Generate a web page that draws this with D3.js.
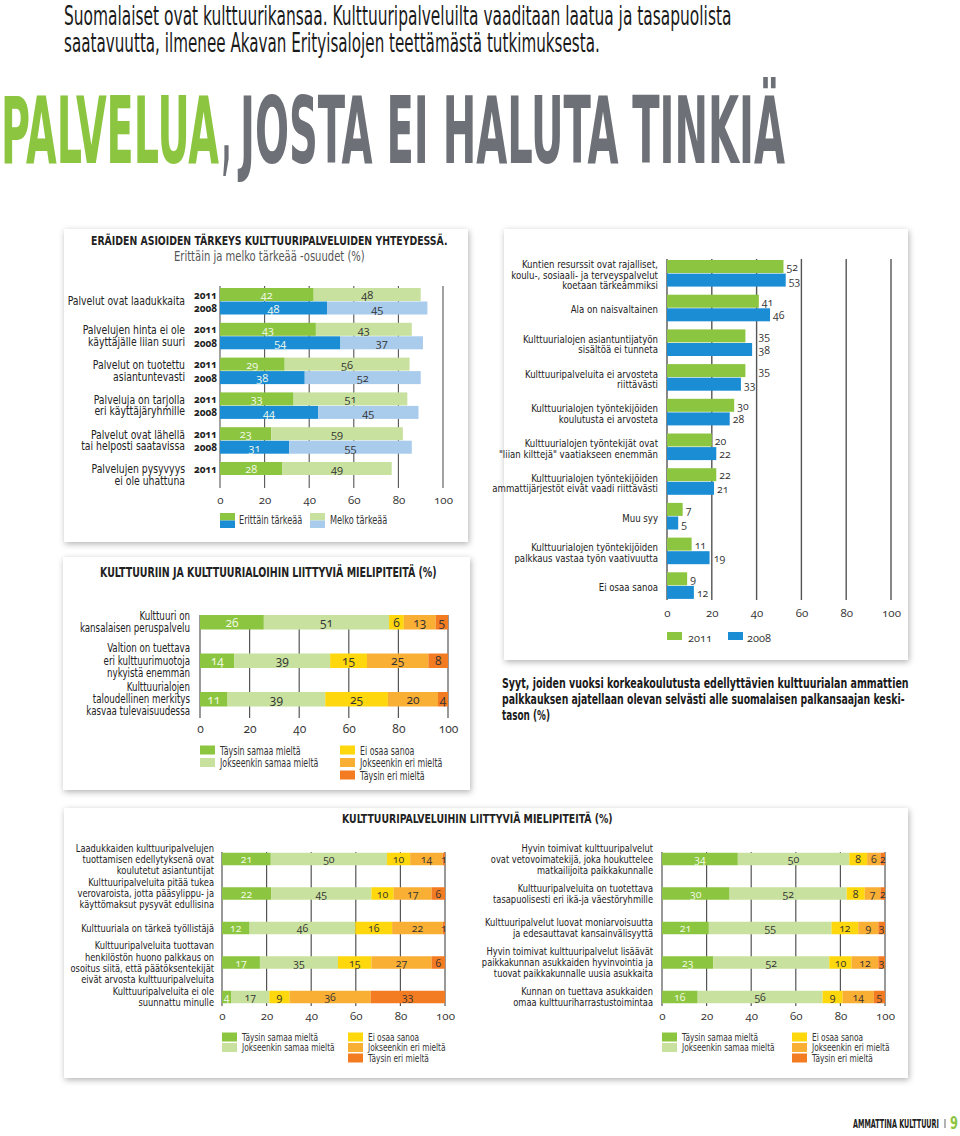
<!DOCTYPE html>
<html><head><meta charset="utf-8">
<script src="https://cdn.jsdelivr.net/npm/d3@7"></script>
<style>
body{margin:0;background:#fff;}
svg{display:block;}
.nar{font-family:"Liberation Sans Narrow","DejaVu Sans Condensed","Arial Narrow",sans-serif;}
.num{font-family:"Open Sans","DejaVu Sans",sans-serif;font-variant-numeric:oldstyle-nums;}
</style></head><body>
<svg id="c" width="960" height="1136"></svg>
<script>
// ---------------- DATA ----------------
const introLines = ["Suomalaiset ovat kulttuurikansaa. Kulttuuripalveluilta vaaditaan laatua ja tasapuolista",
  "saatavuutta, ilmenee Akavan Erityisalojen teettämästä tutkimuksesta."];
const titleGreen = "PALVELUA";
const titleGray = "JOSTA EI HALUTA TINKIÄ";
const axisTicks = [0,20,40,60,80,100];

// Chart 1
const c1Title = "ERÄIDEN ASIOIDEN TÄRKEYS KULTTUURIPALVELUIDEN YHTEYDESSÄ.";
const c1Subtitle = "Erittäin ja melko tärkeää -osuudet (%)";
const c1Categories = [["Palvelut ovat laadukkaita"],["Palvelujen hinta ei ole","käyttäjälle liian suuri"],
  ["Palvelut on tuotettu","asiantuntevasti"],["Palveluja on tarjolla","eri käyttäjäryhmille"],
  ["Palvelut ovat lähellä","tai helposti saatavissa"],["Palvelujen pysyvyys","ei ole uhattuna"]];
const c1Years = ["2011","2008"];
const c1Very2011 = [42,43,29,33,23,28];
const c1Fairly2011 = [48,43,56,51,59,49];
const c1Very2008 = [48,54,38,44,31,null];
const c1Fairly2008 = [45,37,52,45,55,null];
const c1Legend = ["Erittäin tärkeää","Melko tärkeää"];

// Chart 2
const c2Categories = [["Kuntien resurssit ovat rajalliset,","koulu-, sosiaali- ja terveyspalvelut","koetaan tärkeämmiksi"],
  ["Ala on naisvaltainen"],["Kulttuurialojen asiantuntijatyön","sisältöä ei tunneta"],
  ["Kulttuuripalveluita ei arvosteta","riittävästi"],["Kulttuurialojen työntekijöiden","koulutusta ei arvosteta"],
  ["Kulttuurialojen työntekijät ovat","\"liian kilttejä\" vaatiakseen enemmän"],
  ["Kulttuurialojen työntekijöiden","ammattijärjestöt eivät vaadi riittävästi"],["Muu syy"],
  ["Kulttuurialojen työntekijöiden","palkkaus vastaa työn vaativuutta"],["Ei osaa sanoa"]];
const c2Values2011 = [52,41,35,35,30,20,22,7,11,9];
const c2Values2008 = [53,46,38,33,28,22,21,5,19,12];
const c2Legend = ["2011","2008"];
const c2Caption = ["Syyt, joiden vuoksi korkeakoulutusta edellyttävien kulttuurialan ammattien",
  "palkkauksen ajatellaan olevan selvästi alle suomalaisen palkansaajan keski-","tason (%)"];

// Opinion legend
const opinionLegend = ["Täysin samaa mieltä","Jokseenkin samaa mieltä","Ei osaa sanoa","Jokseenkin eri mieltä","Täysin eri mieltä"];

// Chart 3
const c3Title = "KULTTUURIIN JA KULTTUURIALOIHIN LIITTYVIÄ MIELIPITEITÄ (%)";
const c3Categories = [["Kulttuuri on","kansalaisen peruspalvelu"],["Valtion on tuettava","eri kulttuurimuotoja","nykyistä enemmän"],
  ["Kulttuurialojen","taloudellinen merkitys","kasvaa tulevaisuudessa"]];
const c3FullyAgree = [26,14,11];
const c3SomewhatAgree = [51,39,39];
const c3DontKnow = [6,15,25];
const c3SomewhatDisagree = [13,25,20];
const c3FullyDisagree = [5,8,4];

// Chart 4 & 5
const c45Title = "KULTTUURIPALVELUIHIN LIITTYVIÄ MIELIPITEITÄ (%)";
const c4Categories = [["Laadukkaiden kulttuuripalvelujen","tuottamisen edellytyksenä ovat","koulutetut asiantuntijat"],
  ["Kulttuuripalveluita pitää tukea","verovaroista, jotta pääsylippu- ja","käyttömaksut pysyvät edullisina"],
  ["Kulttuuriala on tärkeä työllistäjä"],
  ["Kulttuuripalveluita tuottavan","henkilöstön huono palkkaus on","osoitus siitä, että päätöksentekijät","eivät arvosta kulttuuripalveluita"],
  ["Kulttuuripalveluita ei ole","suunnattu minulle"]];
const c4FullyAgree = [21,22,12,17,4];
const c4SomewhatAgree = [50,45,46,35,17];
const c4DontKnow = [10,10,16,15,9];
const c4SomewhatDisagree = [14,17,22,27,36];
const c4FullyDisagree = [1,6,1,6,33];

const c5Categories = [["Hyvin toimivat kulttuuripalvelut","ovat vetovoimatekijä, joka houkuttelee","matkailijoita paikkakunnalle"],
  ["Kulttuuripalveluita on tuotettava","tasapuolisesti eri ikä-ja väestöryhmille"],
  ["Kulttuuripalvelut luovat moniarvoisuutta","ja edesauttavat kansainvälisyyttä"],
  ["Hyvin toimivat kulttuuripalvelut lisäävät","paikkakunnan asukkaiden hyvinvointia ja","tuovat paikkakunnalle uusia asukkaita"],
  ["Kunnan on tuettava asukkaiden","omaa kulttuuriharrastustoimintaa"]];
const c5FullyAgree = [34,30,21,23,16];
const c5SomewhatAgree = [50,52,55,52,56];
const c5DontKnow = [8,8,12,10,9];
const c5SomewhatDisagree = [6,7,9,12,14];
const c5FullyDisagree = [2,2,3,3,5];

const footerText = "AMMATTINA KULTTUURI";
const footerPage = "9";

// ---------------- STYLE ----------------
const GREEN = "#8cc540", LGREEN = "#c8e19f", BLUE = "#1b8dd5", LBLUE = "#a9cbec";
const YELLOW = "#fed70c", ORANGE = "#f9ae34", DORANGE = "#f37c22";
const opinionColors = [GREEN, LGREEN, YELLOW, ORANGE, DORANGE];
const opinionText = ["#f4fbe9","#333","#333","#333","#333"];
const GRID = "#555";

const svg = d3.select("#c");
const defs = svg.append("defs");
const flt = defs.append("filter").attr("id","sh").attr("x","-5%").attr("y","-5%").attr("width","110%").attr("height","112%");
flt.append("feDropShadow").attr("dx",1).attr("dy",2).attr("stdDeviation",3).attr("flood-color","#000").attr("flood-opacity",0.3);

function ctext(g, x, y, str, o = {}) {
  const sx = o.sx ?? 1;
  return g.append("g").attr("transform", `translate(${x},${y}) scale(${sx},1)`)
    .append("text").attr("class", o.cls || "nar").attr("text-anchor", o.anchor || "start")
    .attr("dominant-baseline", o.db || "central").attr("font-size", o.size || 11)
    .attr("font-weight", o.weight || "normal").attr("fill", o.fill || "#222").text(str);
}
// text squeezed/stretched horizontally to an exact width
function fitText(g, x, y, str, width, o = {}) {
  const gg = g.append("g");
  const t = gg.append("text").attr("class", o.cls || "nar").attr("text-anchor", o.anchor || "start")
    .attr("dominant-baseline", o.db || "auto").attr("font-size", o.size || 11)
    .attr("font-weight", o.weight || "normal").attr("fill", o.fill || "#222").text(str);
  const w = t.node().getComputedTextLength() || width;
  gg.attr("transform", `translate(${x},${y}) scale(${width / w},1)`);
  return t;
}
function mtext(g, x, cy, lines, lh, o) {
  lines.forEach((l, i) => ctext(g, x, cy + (i - (lines.length - 1) / 2) * lh, l, o));
}
function panel(x, y, w, h) {
  svg.append("rect").attr("x", x).attr("y", y).attr("width", w).attr("height", h)
    .attr("fill", "#fff").attr("filter", "url(#sh)");
}
function grid(g, x, y0, y1, w) {
  g.selectAll(null).data(axisTicks).join("line")
    .attr("x1", d => x(d)).attr("x2", d => x(d)).attr("y1", y0).attr("y2", y1)
    .attr("stroke", GRID).attr("stroke-width", w || 1.2);
}
function axis(g, x, y, size) {
  const a = g.append("g").attr("transform", `translate(0,${y})`)
    .call(d3.axisBottom(x).tickValues(axisTicks).tickSize(0).tickPadding(0));
  a.select(".domain").remove();
  a.attr("font-family", null).attr("font-size", null);
  a.selectAll("text").attr("class", "num").attr("font-size", size || 12).attr("fill", "#333")
    .attr("dy", null).attr("dominant-baseline", "central");
}

// ---------------- HEADER ----------------
const head = svg.append("g");
fitText(head, 64, 25, introLines[0], 668, {size: 26, fill: "#1a1a1a"});
fitText(head, 64, 52, introLines[1], 536, {size: 26, fill: "#1a1a1a"});
fitText(head, 1, 163, titleGreen, 218, {size: 92, weight: "bold", fill: GREEN});
fitText(head, 222, 163, ",", 9, {size: 92, weight: "bold", fill: "#6d7076"});
fitText(head, 240, 163, titleGray, 545, {size: 92, weight: "bold", fill: "#6d7076"});

// ---------------- PANELS ----------------
panel(64, 229, 404, 313);
panel(504, 229, 404, 431);
panel(63, 557, 407, 233);
panel(64, 808, 844, 270);

// ---------------- CHART 1 ----------------
{
  const g = svg.append("g");
  fitText(g, 91, 245, c1Title, 357, {size: 13, weight: "bold"});
  fitText(g, 174, 261, c1Subtitle, 191, {size: 14, fill: "#555"});
  const x = d3.scaleLinear([0, 100], [220, 443]);
  const y = d3.scaleBand().domain(d3.range(c1Categories.length)).range([288, 288 + 6 * 34.8]);
  grid(g, x, 286, 488, 1.1);
  const rows = [];
  c1Categories.forEach((c, i) => {
    rows.push({i, yr: 0, a: c1Very2011[i], b: c1Fairly2011[i], ca: GREEN, cb: LGREEN});
    if (c1Very2008[i] != null) rows.push({i, yr: 1, a: c1Very2008[i], b: c1Fairly2008[i], ca: BLUE, cb: LBLUE});
  });
  const by = d => y(d.i) + d.yr * 13.5;
  g.selectAll(null).data(rows).join("rect").attr("x", x(0)).attr("y", by).attr("height", 13)
    .attr("width", d => x(d.a) - x(0)).attr("fill", d => d.ca);
  g.selectAll(null).data(rows).join("rect").attr("x", d => x(d.a)).attr("y", by).attr("height", 13)
    .attr("width", d => x(d.a + d.b) - x(d.a)).attr("fill", d => d.cb);
  g.selectAll(null).data(rows).join("text").attr("class", "num").attr("x", d => (x(0) + x(d.a)) / 2).attr("y", d => by(d) + 6.5)
    .attr("text-anchor", "middle").attr("dominant-baseline", "central").attr("font-size", 11).attr("fill", "#f2f9ea").text(d => d.a);
  g.selectAll(null).data(rows).join("text").attr("class", "num").attr("x", d => (x(d.a) + x(d.a + d.b)) / 2).attr("y", d => by(d) + 6.5)
    .attr("text-anchor", "middle").attr("dominant-baseline", "central").attr("font-size", 11).attr("fill", "#333").text(d => d.b);
  g.selectAll(null).data(rows).join("text").attr("class", "num").attr("x", 217).attr("y", d => by(d) + 6.5)
    .attr("text-anchor", "end").attr("dominant-baseline", "central").attr("font-size", 10).attr("font-weight", "bold")
    .attr("fill", "#222").text(d => c1Years[d.yr]);
  c1Categories.forEach((c, i) => mtext(g, 185, y(i) + 13.5, c, 11.5, {anchor: "end", size: 11.5, sx: 0.9}));
  axis(g, x, 499, 11.5);
  g.append("rect").attr("x", 220).attr("y", 513).attr("width", 15).attr("height", 7.5).attr("fill", GREEN);
  g.append("rect").attr("x", 220).attr("y", 520.5).attr("width", 15).attr("height", 7.5).attr("fill", BLUE);
  g.append("rect").attr("x", 310).attr("y", 513).attr("width", 15).attr("height", 7.5).attr("fill", LGREEN);
  g.append("rect").attr("x", 310).attr("y", 520.5).attr("width", 15).attr("height", 7.5).attr("fill", LBLUE);
  ctext(g, 239, 520, c1Legend[0], {size: 11.5, sx: 0.79, fill: "#333"});
  ctext(g, 330, 520, c1Legend[1], {size: 11.5, sx: 0.79, fill: "#333"});
}

// ---------------- CHART 2 ----------------
{
  const g = svg.append("g");
  const x = d3.scaleLinear([0, 100], [667, 891]);
  const y = d3.scaleBand().domain(d3.range(c2Categories.length)).range([260, 260 + 10 * 34.7]);
  grid(g, x, 259, 600, 1.4);
  const rows = [];
  c2Categories.forEach((c, i) => {
    rows.push({i, yr: 0, v: c2Values2011[i], c: GREEN});
    rows.push({i, yr: 1, v: c2Values2008[i], c: BLUE});
  });
  const by = d => y(d.i) + d.yr * 13.6;
  g.selectAll(null).data(rows).join("rect").attr("x", x(0)).attr("y", by).attr("height", 13)
    .attr("width", d => x(d.v) - x(0)).attr("fill", d => d.c);
  const labelX = v => {
    let x0 = x(v) + 3; const w = String(v).length * 6;
    axisTicks.slice(1).forEach(t => { const gx = x(t); if (x0 < gx + 2 && x0 + w > gx) x0 = gx + 2; });
    return x0;
  };
  g.selectAll(null).data(rows).join("text").attr("class", "num").attr("x", d => labelX(d.v)).attr("y", d => by(d) + 7)
    .attr("dominant-baseline", "central").attr("font-size", 10.5).attr("fill", "#333").text(d => d.v);
  c2Categories.forEach((c, i) => mtext(g, 658, y(i) + 14.5, c, 10.6, {anchor: "end", size: 11, sx: 0.87}));
  axis(g, x, 612, 11.5);
  g.append("rect").attr("x", 667).attr("y", 632).attr("width", 15).attr("height", 8).attr("fill", GREEN);
  g.append("rect").attr("x", 728).attr("y", 632).attr("width", 15).attr("height", 8).attr("fill", BLUE);
  ctext(g, 688, 637, c2Legend[0], {cls: "num", size: 11, fill: "#333"});
  ctext(g, 747, 637, c2Legend[1], {cls: "num", size: 11, fill: "#333"});
  fitText(g, 502, 688, c2Caption[0], 407, {size: 14, weight: "bold", fill: "#1a1a1a"});
  fitText(g, 502, 704, c2Caption[1], 403, {size: 14, weight: "bold", fill: "#1a1a1a"});
  fitText(g, 502, 720, c2Caption[2], 48, {size: 14, weight: "bold", fill: "#1a1a1a"});
}

// ---------------- STACKED OPINION CHARTS ----------------
function stacked(g, cfg) {
  const {x, yTop, barH, series, cats, labelX, lh, labelSize, sx, valueSize} = cfg;
  const n = cats.length;
  const rows = d3.range(n).map(i => {
    const vals = series.map(s => s[i]);
    const tot = d3.sum(vals);
    let acc = 0;
    return vals.map((v, k) => { const s0 = acc; acc += v; return {i, k, v, p0: s0 / tot * 100, p1: acc / tot * 100}; });
  }).flat();
  g.selectAll(null).data(rows).join("rect").attr("x", d => x(d.p0)).attr("y", d => yTop(d.i)).attr("height", barH)
    .attr("width", d => x(d.p1) - x(d.p0)).attr("fill", d => opinionColors[d.k]);
  g.selectAll(null).data(rows).join("text").attr("class", "num").attr("x", d => (x(d.p0) + x(d.p1)) / 2)
    .attr("y", d => yTop(d.i) + barH / 2).attr("text-anchor", "middle").attr("dominant-baseline", "central")
    .attr("font-size", valueSize).attr("fill", d => opinionText[d.k]).text(d => d.v);
  cats.forEach((c, i) => mtext(g, labelX, yTop(i) + barH / 2, c, lh, {anchor: "end", size: labelSize, sx}));
}
function opinionLegendDraw(g, x1, x2, y0, dy, size, sx) {
  const pos = [[x1, 0], [x1, 1], [x2, 0], [x2, 1], [x2, 2]];
  opinionLegend.forEach((l, k) => {
    const [lx, r] = pos[k];
    g.append("rect").attr("x", lx).attr("y", y0 + r * dy - 4.5).attr("width", 15).attr("height", 9).attr("fill", opinionColors[k]);
    ctext(g, lx + 20, y0 + r * dy, l, {size, sx, fill: "#333"});
  });
}

// Chart 3
{
  const g = svg.append("g");
  fitText(g, 100, 577, c3Title, 337, {size: 14, weight: "bold"});
  const x = d3.scaleLinear([0, 100], [200, 448]);
  const y = d3.scaleBand().domain(d3.range(3)).range([615, 615 + 3 * 38.5]);
  grid(g, x, 615, 718, 1.2);
  stacked(g, {x, yTop: y, barH: 14.5, series: [c3FullyAgree, c3SomewhatAgree, c3DontKnow, c3SomewhatDisagree, c3FullyDisagree],
    cats: c3Categories, labelX: 190, lh: 12.3, labelSize: 11.8, sx: 0.82, valueSize: 12});
  axis(g, x, 728, 12);
  opinionLegendDraw(g, 200, 340, 750, 12.5, 12, 0.73);
}

// Chart 4 & 5
{
  const g = svg.append("g");
  fitText(g, 342, 823, c45Title, 271, {size: 13, weight: "bold"});
  const yc = d3.scalePoint().domain(d3.range(5)).range([859, 997]);
  const yTop = i => yc(i) - 6.25;
  const x4 = d3.scaleLinear([0, 100], [222, 445]);
  grid(g, x4, 852, 1006, 1.2);
  stacked(g, {x: x4, yTop, barH: 12.5, series: [c4FullyAgree, c4SomewhatAgree, c4DontKnow, c4SomewhatDisagree, c4FullyDisagree],
    cats: c4Categories, labelX: 214, lh: 11.2, labelSize: 11, sx: 0.84, valueSize: 10.5});
  axis(g, x4, 1015, 11.5);
  opinionLegendDraw(g, 222, 348, 1037, 10.5, 11, 0.75);

  const x5 = d3.scaleLinear([0, 100], [662, 885]);
  grid(g, x5, 852, 1006, 1.2);
  stacked(g, {x: x5, yTop, barH: 12.5, series: [c5FullyAgree, c5SomewhatAgree, c5DontKnow, c5SomewhatDisagree, c5FullyDisagree],
    cats: c5Categories, labelX: 653, lh: 11.2, labelSize: 11, sx: 0.84, valueSize: 10.5});
  axis(g, x5, 1015, 11.5);
  opinionLegendDraw(g, 662, 792, 1037, 10.5, 11, 0.75);
}

// ---------------- FOOTER ----------------
{
  const g = svg.append("g");
  fitText(g, 853, 1128, footerText, 86, {size: 12, weight: "bold", fill: "#222"});
  g.append("line").attr("x1", 945).attr("x2", 945).attr("y1", 1119).attr("y2", 1128).attr("stroke", "#666").attr("stroke-width", 1);
  fitText(g, 950, 1129, footerPage, 8, {size: 17, weight: "bold", fill: GREEN});
}
</script>
</body></html>
